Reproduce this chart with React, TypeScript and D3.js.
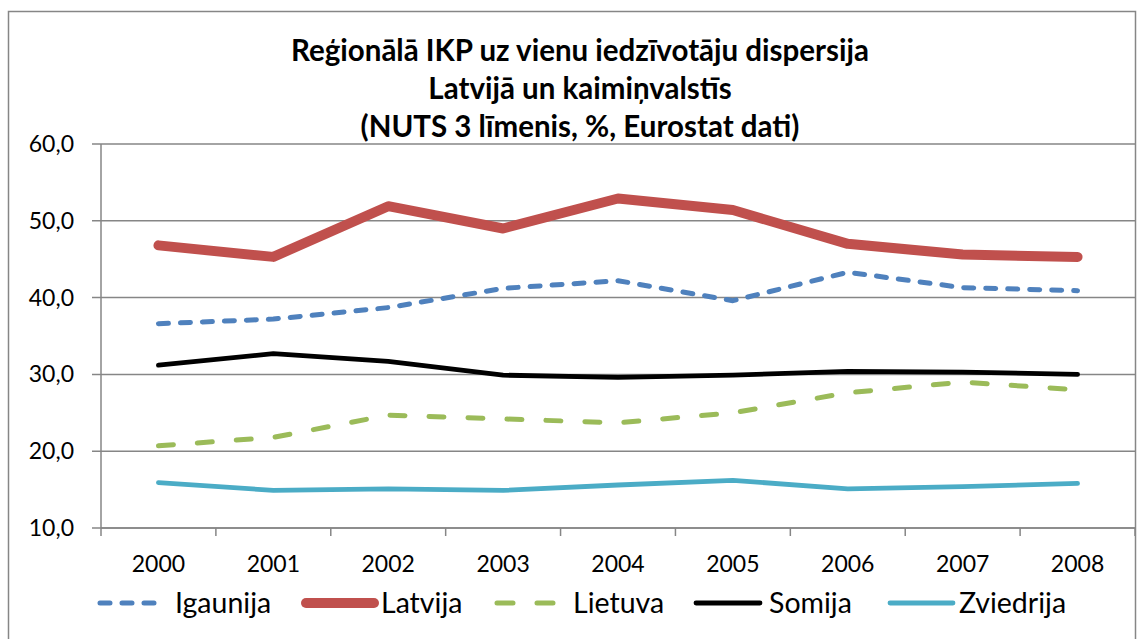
import React from "react";
import * as d3 from "d3";

// chart data
const years = ["2000", "2001", "2002", "2003", "2004", "2005", "2006", "2007", "2008"];
const igaunija = [36.6, 37.2, 38.7, 41.2, 42.2, 39.6, 43.3, 41.3, 40.9];
const latvija = [46.8, 45.3, 51.9, 49.0, 52.9, 51.4, 47.0, 45.6, 45.3];
const lietuva = [20.7, 21.8, 24.7, 24.2, 23.7, 25.0, 27.6, 29.0, 28.0];
const somija = [31.2, 32.7, 31.7, 29.9, 29.6, 29.9, 30.4, 30.3, 30.0];
const zviedrija = [15.9, 14.9, 15.1, 14.9, 15.6, 16.2, 15.1, 15.4, 15.8];
const yTicks = [10, 20, 30, 40, 50, 60];
const titleLines = [
  "Reģionālā IKP uz vienu iedzīvotāju dispersija",
  "Latvijā un kaimiņvalstīs",
  "(NUTS 3 līmenis, %, Eurostat dati)",
];

const series = [
  { name: "Igaunija", values: igaunija, color: "#4F81BD", width: 5, dash: "10 12", legDash: "10 12" },
  { name: "Latvija", values: latvija, color: "#C0504D", width: 10, dash: null, legDash: null },
  { name: "Lietuva", values: lietuva, color: "#9BBB59", width: 5, dash: "15 24", legDash: "16 24" },
  { name: "Somija", values: somija, color: "#000000", width: 4.8, dash: null, legDash: null },
  { name: "Zviedrija", values: zviedrija, color: "#4BACC6", width: 4.8, dash: null, legDash: null },
];

// legend layout: [line start, line end, text x]
const legendPos = [
  [100, 156, 175],
  [306, 374, 381],
  [497, 553, 573],
  [696, 760, 769],
  [890, 953, 959],
];

const W = 1138;
const H = 639;
const left = 101;
const right = 1135;
const top = 144;
const bottom = 528;
const font = "Lato, 'Open Sans', sans-serif";

export default function App() {
  const x = d3.scaleBand().domain(years).range([left, right]);
  const y = d3.scaleLinear().domain([10, 60]).range([bottom, top]);
  const line = d3
    .line<number>()
    .x((_, i) => (x(years[i]) as number) + x.bandwidth() / 2)
    .y((d) => y(d));

  const tickXs = years.map((yr) => x(yr) as number).concat([right]);

  return (
    <svg
      width={W}
      height={H}
      style={{ position: "absolute", left: 0, top: 0, background: "#fff" }}
      fontFamily={font}
    >
      <rect x={8.5} y={11.5} width={1127} height={640} fill="#fff" stroke="#868686" strokeWidth={1.5} />

      {titleLines.map((t, i) => (
        <text
          key={i}
          x={580}
          y={61 + i * 38}
          textAnchor="middle"
          fontWeight="bold"
          fontSize={29.5}
          fill="#000"
        >
          {t}
        </text>
      ))}

      {/* gridlines */}
      {yTicks.map((v) => (
        <line key={v} x1={92} x2={right} y1={y(v)} y2={y(v)} stroke="#868686" strokeWidth={1.5} />
      ))}
      {yTicks.map((v) => (
        <text key={"l" + v} x={74} y={y(v) + 8} textAnchor="end" fontSize={23} fill="#000">
          {d3.format(".1f")(v).replace(".", ",")}
        </text>
      ))}

      {/* axes */}
      <line x1={left} x2={left} y1={top} y2={bottom} stroke="#868686" strokeWidth={1.5} />
      <line x1={left} x2={right} y1={bottom} y2={bottom} stroke="#868686" strokeWidth={1.5} />
      {tickXs.map((tx, i) => (
        <line key={i} x1={tx} x2={tx} y1={bottom} y2={bottom + 8} stroke="#868686" strokeWidth={1.5} />
      ))}
      {years.map((yr) => (
        <text
          key={yr}
          x={(x(yr) as number) + x.bandwidth() / 2}
          y={572}
          textAnchor="middle"
          fontSize={23}
          fill="#000"
        >
          {yr}
        </text>
      ))}

      {/* series */}
      {series.map((s) => (
        <path
          key={s.name}
          d={line(s.values) || ""}
          fill="none"
          stroke={s.color}
          strokeWidth={s.width}
          strokeDasharray={s.dash || undefined}
          strokeLinecap="round"
          strokeLinejoin="round"
        />
      ))}

      {/* legend */}
      {series.map((s, i) => {
        const [x1, x2, tx] = legendPos[i];
        return (
          <g key={"lg" + s.name}>
            <line
              x1={x1}
              x2={x2}
              y1={603}
              y2={603}
              stroke={s.color}
              strokeWidth={s.width}
              strokeDasharray={s.legDash || undefined}
              strokeLinecap="round"
            />
            <text x={tx} y={613} fontSize={28.5} fill="#000">
              {s.name}
            </text>
          </g>
        );
      })}
    </svg>
  );
}
